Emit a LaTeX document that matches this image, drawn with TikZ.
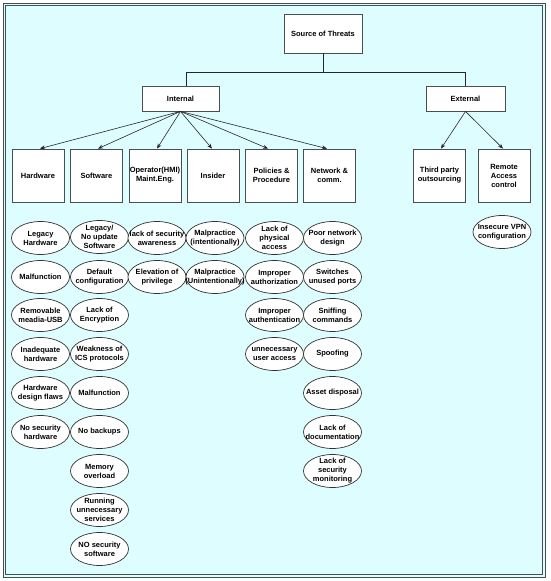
\documentclass[tikz,border=0pt]{standalone}
\usepackage{fontspec}
\setmainfont{Liberation Sans}
\usetikzlibrary{shapes.geometric,arrows.meta}
\definecolor{bgc}{RGB}{222,253,255}
\definecolor{frm}{RGB}{70,80,80}
\newcommand\myov[4]{\node[ov,label={[ovt]center:{#4}}] (#1) at (#2,#3) {};}
\begin{document}
\begin{tikzpicture}[x=1pt,y=-1pt,
 box/.style={draw=frm, fill=white, line width=0.8pt, inner sep=0pt, font=\bfseries\fontsize{7.5}{9}\selectfont, align=center},
 sub/.style={box, minimum width=52pt, minimum height=53pt},
 ov/.style={draw=black!80, fill=white, ellipse, line width=0.7pt, minimum width=58pt, minimum height=33pt, inner sep=0pt},
 ovt/.style={font=\bfseries\fontsize{7.5}{9}\selectfont, align=center, inner sep=0pt},
 arr/.style={draw=black!85, line width=0.6pt, -{Stealth[length=5pt,width=4pt]}},
 con/.style={draw=black!85, line width=0.6pt}]
\useasboundingbox (0,0) rectangle (550,581);
\fill[white] (0,0) rectangle (550,581);
\fill[bgc] (3,3) rectangle (545.5,577);
\draw[frm, line width=0.8pt] (3,3) rectangle (545.5,577);
\draw[frm, line width=0.8pt] (5.8,5.8) rectangle (542.8,574.2);

\node[box, minimum width=78pt, minimum height=39pt] (src) at (323,33.5) {Source of Threats};
\node[box, minimum width=77pt, minimum height=25pt] (int) at (180.5,98.5) {Internal};
\node[box, minimum width=79pt, minimum height=25pt] (ext) at (465.5,98.5) {External};

\node[sub] (hw) at (38,175.5) {Hardware};
\node[sub] (sw) at (96.5,175.5) {Software};
\node[sub] (op) at (155,175.5) {Operator(HMI)\\Maint.Eng.};
\node[sub] (ins) at (213,175.5) {Insider};
\node[sub] (pol) at (271.5,175.5) {Policies \&\\Procedure};
\node[sub] (net) at (329.5,175.5) {Network \&\\comm.};
\node[sub] (tp) at (439.5,175.5) {Third party\\outsourcing};
\node[sub] (rem) at (504,175.5) {Remote\\Access\\control};

\coordinate (j) at (323,72);
\draw[con] (src.south) -- (j);
\draw[con] (j) -| ([xshift=5.5pt]int.north);
\draw[con] (j) -| (ext.north);

\draw[arr] (int.south) -- ([xshift=2pt]hw.north);
\draw[arr] (int.south) -- ([xshift=1.5pt]sw.north);
\draw[arr] (int.south) -- ([xshift=2pt]op.north);
\draw[arr] (int.south) -- ([xshift=-1pt]ins.north);
\draw[arr] (int.south) -- ([xshift=-3.5pt]pol.north);
\draw[arr] (int.south) -- ([xshift=-2.5pt]net.north);
\draw[arr] (ext.south) -- ([xshift=1.5pt]tp.north);
\draw[arr] (ext.south) -- ([xshift=-1pt]rem.north);

% Hardware column
\myov{a1}{40.5}{238}{Legacy\\Hardware}
\myov{a2}{40.5}{277}{Malfunction}
\myov{a3}{40.5}{315}{Removable\\meadia-USB}
\myov{a4}{40.5}{354}{Inadequate\\hardware}
\myov{a5}{40.5}{393}{Hardware\\design flaws}
\myov{a6}{40.5}{432}{No security\\hardware}
% Software column
\myov{b1}{99.5}{237}{Legacy/\\No update\\Software}
\myov{b2}{99.5}{277}{Default\\configuration}
\myov{b3}{99.5}{315}{Lack of\\Encryption}
\myov{b4}{99.5}{354}{Weakness of\\ICS protocols}
\myov{b5}{99.5}{393}{Malfunction}
\myov{b6}{99.5}{432}{No backups}
\myov{b7}{99.5}{471}{Memory\\overload}
\myov{b8}{99.5}{510}{Running\\unnecessary\\services}
\myov{b9}{99.5}{549}{NO security\\software}
% Operator column
\myov{c1}{157}{238}{lack of security\\awareness}
\myov{c2}{157}{277}{Elevation of\\privilege}
% Insider column
\myov{d1}{215}{238}{Malpractice\\(intentionally)}
\myov{d2}{215}{277}{Malpractice\\(Unintentionally)}
% Policies column
\myov{e1}{274.5}{238}{Lack of\\physical\\access}
\myov{e2}{274.5}{277}{Improper\\authorization}
\myov{e3}{274.5}{315}{Improper\\authentication}
\myov{e4}{274.5}{354}{unnecessary\\user access}
% Network column
\myov{f1}{332.5}{238}{Poor network\\design}
\myov{f2}{332.5}{277}{Switches\\unused ports}
\myov{f3}{332.5}{315}{Sniffing\\commands}
\myov{f4}{332.5}{354}{Spoofing}
\myov{f5}{332.5}{393}{Asset disposal}
\myov{f6}{332.5}{432}{Lack of\\documentation}
\myov{f7}{332.5}{471}{Lack of\\security\\monitoring}
% Remote column
\myov{g1}{502}{232}{Insecure VPN\\configuration}
\end{tikzpicture}
\end{document}
